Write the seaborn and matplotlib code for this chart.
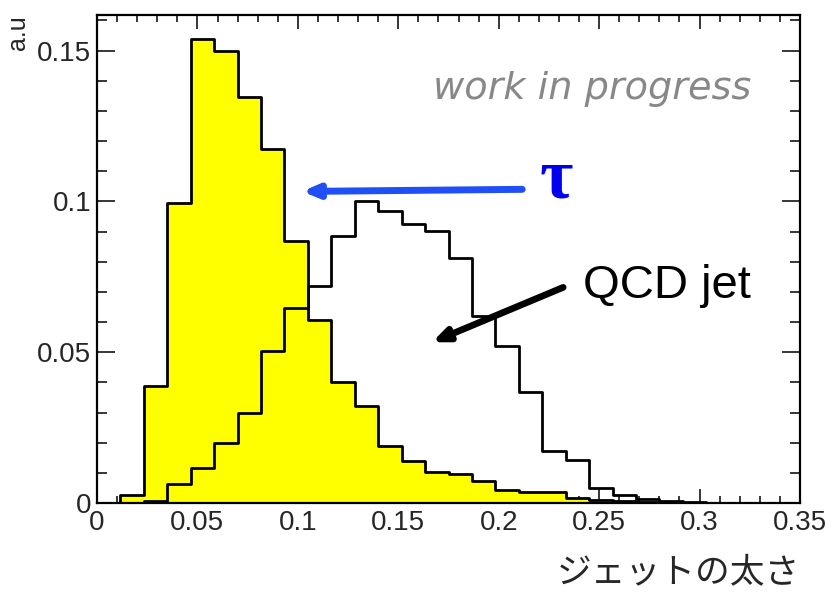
import numpy as np
import pandas as pd
import matplotlib
matplotlib.use("Agg")
import matplotlib.pyplot as plt
import matplotlib.ticker as mticker
import seaborn as sns

# ---- data ----
x_min, x_max, n_bins = 0.0, 0.35, 30
tau_values = [0.0, 0.0027, 0.0387, 0.0994, 0.154, 0.150, 0.1345, 0.1174, 0.0870, 0.0606,
              0.0402, 0.0322, 0.0189, 0.0140, 0.0102, 0.0096, 0.0073, 0.0044, 0.0036, 0.0038,
              0.0018, 0.0010, 0.0005, 0.0003, 0.0001, 0.0, 0.0, 0.0, 0.0, 0.0]
qcd_values = [0.0, 0.0, 0.0005, 0.0063, 0.0115, 0.0198, 0.0299, 0.0504, 0.0648, 0.0718,
              0.0884, 0.1000, 0.0968, 0.0924, 0.0902, 0.0812, 0.0620, 0.0520, 0.0367, 0.0174,
              0.0143, 0.0049, 0.0026, 0.0012, 0.0005, 0.0004, 0.0, 0.0, 0.0, 0.0]
x_ticks = [0, 0.05, 0.1, 0.15, 0.2, 0.25, 0.3, 0.35]
y_ticks = [0, 0.05, 0.1, 0.15]
x_label = "ジェットの太さ"
y_label = "a.u"

edges = np.linspace(x_min, x_max, n_bins + 1)
centers = 0.5 * (edges[:-1] + edges[1:])
df = pd.DataFrame({"center": centers, "tau": tau_values, "qcd": qcd_values})
bin_list = edges.tolist()

sns.set_style("ticks")
plt.rcParams["font.family"] = ["Liberation Sans", "DejaVu Sans"]

fig = plt.figure(figsize=(8.32, 5.92), dpi=100)
ax = fig.add_axes([97 / 832, 1 - 503 / 592, 703 / 832, 488 / 592])

sns.histplot(data=df, x="center", weights="tau", bins=bin_list, element="step",
             fill=True, color="#ffff00", alpha=1, edgecolor="black", linewidth=2, ax=ax)
sns.histplot(data=df, x="center", weights="qcd", bins=bin_list, element="step",
             fill=False, color="black", linewidth=2, ax=ax)

ax.set_xlim(x_min, x_max)
ax.set_ylim(0, 0.1618)
ax.set_xticks(x_ticks)
ax.set_yticks(y_ticks)
ax.xaxis.set_major_formatter(mticker.FormatStrFormatter("%g"))
ax.yaxis.set_major_formatter(mticker.FormatStrFormatter("%g"))
ax.xaxis.set_minor_locator(mticker.MultipleLocator(0.01))
ax.yaxis.set_minor_locator(mticker.MultipleLocator(0.01))
ax.tick_params(which="both", direction="in", top=True, right=True, width=1.1, color="black")
ax.tick_params(axis="x", which="major", length=10, pad=5)
ax.tick_params(axis="x", which="minor", length=5)
ax.tick_params(axis="y", which="major", length=13, pad=4)
ax.tick_params(axis="y", which="minor", length=7)
tick_font = ["Liberation Sans Narrow", "Liberation Sans", "DejaVu Sans"]
for lab in ax.get_xticklabels() + ax.get_yticklabels():
    lab.set_family(tick_font)
    lab.set_fontsize(20)
for s in ax.spines.values():
    s.set_visible(True)
    s.set_linewidth(1.6)
    s.set_color("black")

ax.set_xlabel(x_label, fontsize=25, family=["Noto Sans CJK JP", "DejaVu Sans"], loc="right")
ax.xaxis.set_label_coords(1.0, -0.108)
ax.set_ylabel(y_label, fontsize=18, loc="top", family=["Liberation Sans", "DejaVu Sans"])
ax.yaxis.set_label_coords(-0.095, 1.0)

# annotations
ax.text(0.1673, 0.1338, "work in progress", fontsize=27.5, style="italic", color="#888888",
        family=["DejaVu Sans"], va="baseline", ha="left")
ax.annotate("", xy=(0.1021, 0.1033), xytext=(0.2117, 0.1040),
            arrowprops=dict(arrowstyle="-|>,head_width=0.38,head_length=0.9", lw=5,
                            color="#1f4ff5", shrinkA=0, shrinkB=0))
ax.text(0.2286, 0.1013, "τ", fontsize=52, fontweight="bold", color="#0000ee",
        family=["Liberation Serif", "DejaVu Serif"], ha="center", va="baseline")
ax.annotate("", xy=(0.1668, 0.0533), xytext=(0.2321, 0.0715),
            arrowprops=dict(arrowstyle="-|>,head_width=0.38,head_length=0.9", lw=4.8,
                            color="black", shrinkA=0, shrinkB=0))
ax.text(0.2420, 0.0679, "QCD jet", fontsize=34, color="black", ha="left", va="baseline")

fig.savefig("out.png", dpi=100)
